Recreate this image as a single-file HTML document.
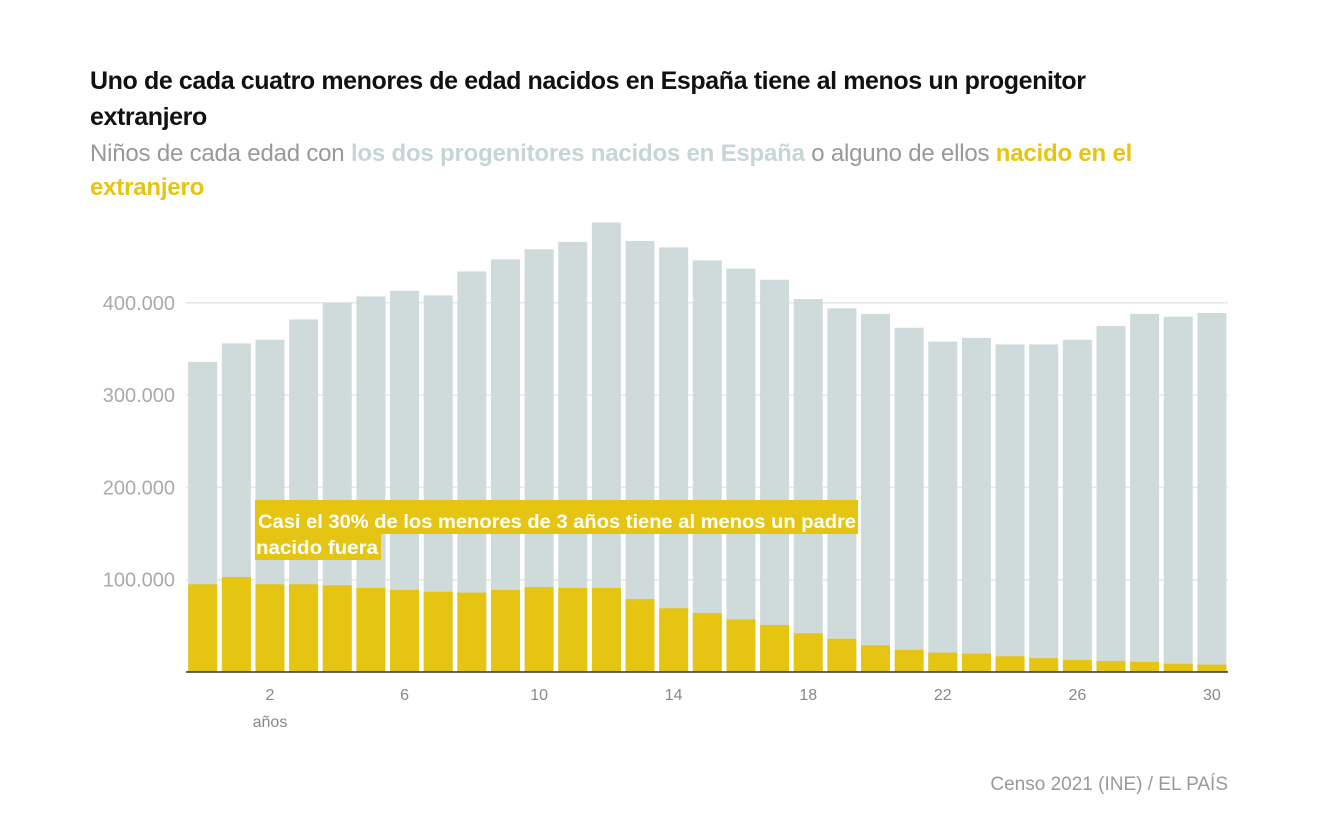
<!DOCTYPE html>
<html><head><meta charset="utf-8">
<style>
body{margin:0;width:1334px;height:832px;background:#fff;font-family:"Liberation Sans",sans-serif;overflow:hidden;position:relative}
.t{position:absolute;left:90px;top:63px;font-size:25px;font-weight:bold;color:#111;line-height:36px;width:1040px;letter-spacing:-0.4px}
.s{position:absolute;left:90px;top:137px;font-size:24px;color:#999;line-height:34px;width:1100px;letter-spacing:-0.2px}
.src{position:absolute;right:106px;top:774px;font-size:19px;color:#999}
</style></head><body>
<div class="t">Uno de cada cuatro menores de edad nacidos en España tiene al menos un progenitor extranjero</div>
<div class="s">Niños de cada edad con <b style="color:#c6d5d5">los dos progenitores nacidos en España</b> o alguno de ellos <b style="color:#e5c512">nacido en el extranjero</b></div>
<svg id="c" width="1334" height="832" style="position:absolute;left:0;top:0"></svg>
<div class="src">Censo 2021 (INE) / EL PAÍS</div>
<script>
const ages=[0,1,2,3,4,5,6,7,8,9,10,11,12,13,14,15,16,17,18,19,20,21,22,23,24,25,26,27,28,29,30];
const totals=[336,356,360,382,400,407,413,408,434,447,458,466,487,467,460,446,437,425,404,394,388,373,358,362,355,355,360,375,388,385,389];
const foreign=[95,103,95,95,94,91,89,87,86,89,92,91,91,79,69,64,57,51,42,36,29,24,21,20,17,15,13,12,11,9,8];
const yTicks=[100,200,300,400];
const xTicks=[2,6,10,14,18,22,26,30];
const NS="http://www.w3.org/2000/svg";
const svg=document.getElementById('c');
const x=a=>202.7+a*33.64;
const y=v=>672-v*0.923;
function mk(t,at){const e=document.createElementNS(NS,t);for(const k in at)e.setAttribute(k,at[k]);svg.appendChild(e);return e;}
yTicks.forEach(v=>{
 const l=mk('line',{x1:186,x2:1228,y1:y(v),y2:y(v),stroke:'#e6e6e6','stroke-width':1.5});
 
 
 const t=mk('text',{x:175,y:y(v)+7,'text-anchor':'end','font-size':20,fill:'#aaa'});
 t.textContent=(v*1000).toLocaleString('de-DE');
 
 
});
ages.forEach((a,i)=>{
 const g=mk('rect',{x:x(a)-14.5,y:y(totals[i]),width:29,height:672-y(totals[i]),fill:'#cfdbdb'});
 
 
 const f=mk('rect',{x:x(a)-14.5,y:y(foreign[i]),width:29,height:672-y(foreign[i]),fill:'#e5c512'});
 
 
});
const ax=mk('line',{x1:186,x2:1228,y1:672,y2:672,stroke:'#333','stroke-width':1.5});


xTicks.forEach(v=>{
 const t=mk('text',{x:x(v),y:700,'text-anchor':'middle','font-size':16,fill:'#888'});
 t.textContent=v;
 
 
});
const u=mk('text',{x:x(2),y:727,'text-anchor':'middle','font-size':16,fill:'#888'});
u.textContent='años';


const b1=mk('rect',{x:255,y:500,width:603,height:34,fill:'#e5c512'});


const b2=mk('rect',{x:255,y:532,width:126,height:28,fill:'#e5c512'});


const a1=mk('text',{x:258,y:528,'font-size':19,'font-weight':'bold',fill:'#fff',textLength:598,lengthAdjust:'spacingAndGlyphs'});
a1.textContent='Casi el 30% de los menores de 3 años tiene al menos un padre';


const a2=mk('text',{x:256,y:554,'font-size':19,'font-weight':'bold',fill:'#fff',textLength:122,lengthAdjust:'spacingAndGlyphs'});
a2.textContent='nacido fuera';


</script>
</body></html>
